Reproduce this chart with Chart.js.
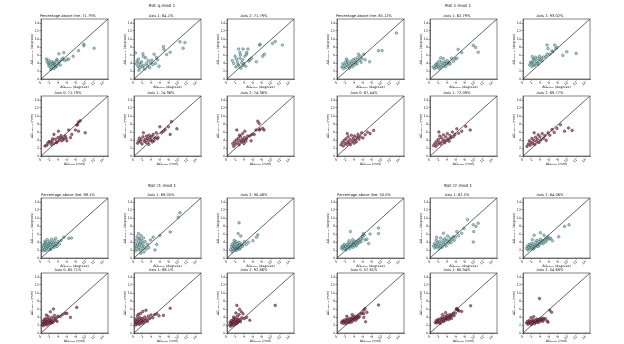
<!DOCTYPE html>
<html><head><meta charset="utf-8">
<script src="https://cdn.jsdelivr.net/npm/chart.js@4/dist/chart.umd.min.js"></script>
<style>
body{margin:0;background:#fff;width:624px;height:344px;position:relative;overflow:hidden;font-family:"DejaVu Sans",sans-serif}
canvas{position:absolute}
.sup{position:absolute;font-size:4.3px;font-family:"DejaVu Sans",sans-serif;color:#111;transform:translateX(-50%);white-space:nowrap;line-height:5px}
</style></head><body>
<script>
// ---------- axis / labels ----------
const tickValues = [0, 2, 4, 6, 8, 10, 12, 14];
const axisMin = 0, axisMax = 15;
const groupTitles = ["Rat q mod 1", "Rat s mod 1", "Rat r1 mod 1", "Rat r2 mod 1"];
const xLabelDeg = "ΔΩₐᵣₜₕᵣₒ (degrees)", yLabelDeg = "ΔΩₘₑₐₛᵤᵣₑ (degrees)";
const xLabelMm = "ΔΩₐᵣₜₕᵣₒ (mm)", yLabelMm = "ΔΩₘₑₐₛᵤᵣₑ (mm)";

const q_titles  = ["Percentage above line: 71.79%", "Axis 1: 64.1%", "Axis 2: 71.79%", "Axis 0: 71.79%", "Axis 1: 74.36%", "Axis 2: 74.36%"];
const s_titles  = ["Percentage above line: 65.12%", "Axis 1: 62.79%", "Axis 2: 93.02%", "Axis 0: 67.44%", "Axis 1: 72.09%", "Axis 2: 69.77%"];
const r1_titles = ["Percentage above line: 88.1%", "Axis 1: 69.05%", "Axis 2: 90.48%", "Axis 0: 85.71%", "Axis 1: 88.1%", "Axis 2: 92.86%"];
const r2_titles = ["Percentage above line: 50.0%", "Axis 1: 62.5%", "Axis 2: 64.06%", "Axis 0: 57.81%", "Axis 1: 60.94%", "Axis 2: 54.69%"];

// ---------- data: [arthro, measure] ----------
const q_deg_all = [[1.2,5.0],[1.4,4.3],[1.6,3.8],[1.8,3.2],[2.0,4.0],[2.1,3.5],[2.3,2.8],[2.4,4.4],[2.6,3.9],[2.7,3.3],[2.9,2.6],[3.0,4.1],[3.1,3.6],[3.3,3.0],[3.4,4.6],[3.6,4.9],[3.8,3.9],[4.0,6.3],[4.1,4.3],[4.3,3.5],[4.6,4.8],[4.9,5.2],[5.1,6.6],[5.3,4.6],[5.8,4.8],[6.2,5.0],[7.2,5.7],[8.4,7.1],[9.6,8.3],[9.6,8.7],[11.9,7.7],[2.2,2.4],[2.9,3.8],[3.5,3.2],[1.7,4.7]];
const q_deg_ax1 = [[0.3,6.5],[0.5,3.8],[0.7,4.5],[0.9,3.2],[1.0,5.0],[1.2,4.0],[1.3,2.8],[1.5,3.6],[1.7,4.3],[1.9,3.0],[2.1,5.6],[2.2,3.4],[2.4,2.5],[2.6,5.3],[2.8,3.9],[3.0,3.3],[3.2,4.6],[3.5,2.8],[3.7,4.0],[4.0,4.7],[4.2,3.6],[4.5,6.2],[4.8,3.9],[5.0,5.4],[5.3,4.8],[5.6,3.2],[6.6,8.1],[6.7,7.4],[7.3,6.1],[8.1,6.7],[10.3,9.3],[11.4,9.1],[11.0,7.7],[1.1,2.2],[2.0,6.3]];
const q_deg_ax2 = [[1.2,4.6],[1.5,3.9],[1.8,5.7],[2.0,3.0],[2.3,4.3],[2.5,3.6],[2.6,7.5],[2.6,3.4],[2.9,6.6],[2.9,5.2],[3.1,2.7],[3.3,4.1],[3.5,4.8],[3.6,7.5],[3.6,3.4],[3.8,3.8],[4.0,5.7],[4.2,3.2],[4.4,6.6],[4.4,6.2],[4.7,7.5],[4.9,4.5],[5.1,4.8],[5.5,5.2],[6.6,4.3],[7.3,8.5],[7.4,8.7],[8.0,5.7],[8.4,6.2],[10.2,8.9],[10.8,9.4],[12.4,8.5],[2.1,5.0],[3.0,6.0]];
const q_mm_ax0 = [[0.9,2.5],[1.3,2.7],[1.5,3.2],[1.8,3.6],[2.1,3.5],[2.3,2.9],[2.5,3.8],[2.6,4.3],[2.8,3.1],[2.9,5.4],[3.2,4.2],[3.4,3.3],[3.6,3.5],[3.8,4.6],[3.9,6.2],[4.1,3.9],[4.3,4.6],[4.5,5.1],[4.7,3.8],[4.9,4.4],[5.1,4.2],[5.4,5.0],[5.6,4.5],[5.8,3.8],[6.2,6.5],[6.6,4.6],[6.9,5.4],[7.7,6.5],[8.0,7.7],[8.2,7.9],[8.4,8.5],[8.8,8.8],[8.4,6.2],[9.9,5.8]];
const q_mm_ax1 = [[0.8,3.2],[1.0,3.8],[1.2,4.5],[1.4,3.5],[1.6,4.1],[1.8,3.0],[2.0,4.8],[2.1,5.8],[2.3,3.7],[2.5,4.2],[2.7,3.4],[2.8,5.0],[3.0,4.4],[3.2,3.9],[3.4,5.2],[3.6,4.6],[3.8,4.0],[4.0,4.9],[4.3,5.4],[4.5,3.8],[4.7,4.5],[5.0,5.8],[5.2,4.3],[5.4,4.6],[5.8,7.3],[6.2,5.8],[6.6,6.2],[7.0,6.6],[7.7,7.3],[8.1,5.4],[8.4,8.6],[9.6,6.8],[3.3,2.9],[4.1,3.5]];
const q_mm_ax2 = [[1.3,3.1],[1.5,2.4],[1.7,3.6],[1.9,2.9],[2.1,4.0],[2.2,6.5],[2.4,3.3],[2.5,4.4],[2.7,2.8],[2.9,3.8],[3.0,4.9],[3.2,3.5],[3.4,4.2],[3.5,5.6],[3.7,3.9],[3.9,4.6],[4.0,6.2],[4.2,3.7],[4.4,4.3],[4.6,5.0],[5.1,5.0],[5.4,3.8],[5.6,5.4],[6.1,5.4],[6.5,6.5],[6.9,8.7],[7.2,8.1],[7.2,6.5],[7.4,6.7],[8.0,6.9],[8.3,6.5],[2.8,5.2],[3.8,3.1]];

const s_deg_all = [[1.1,3.0],[1.3,3.8],[1.5,2.6],[1.7,3.4],[1.9,4.2],[2.0,2.9],[2.2,3.7],[2.3,4.6],[2.5,3.2],[2.6,4.0],[2.8,2.7],[3.0,3.5],[3.1,4.4],[3.3,3.9],[3.5,3.1],[3.6,4.8],[3.8,4.1],[4.0,3.6],[4.1,5.0],[4.3,4.3],[4.5,3.8],[4.6,5.3],[4.8,6.2],[5.0,4.7],[5.2,5.7],[5.4,4.2],[5.6,5.1],[6.0,6.2],[6.3,4.8],[7.3,4.3],[9.3,7.1],[10.1,7.1],[13.3,11.5],[2.1,5.0]];
const s_deg_ax1 = [[0.7,3.0],[1.0,2.6],[1.2,3.5],[1.4,2.9],[1.6,4.0],[1.8,3.2],[2.0,2.7],[2.1,4.5],[2.3,3.6],[2.5,3.0],[2.7,4.2],[2.9,3.4],[3.0,5.1],[3.2,3.8],[3.4,4.3],[3.5,3.1],[3.7,3.9],[3.9,4.6],[4.1,3.7],[4.3,4.1],[4.5,3.8],[4.8,5.2],[5.2,4.4],[5.6,5.0],[6.0,5.2],[6.3,7.4],[7.1,6.6],[9.7,8.4],[10.2,7.9],[10.8,6.7],[2.4,5.3],[1.5,3.6]];
const s_deg_ax2 = [[1.5,3.5],[1.7,4.2],[1.9,4.0],[2.0,3.1],[2.2,4.3],[2.3,5.0],[2.4,3.6],[2.6,4.8],[2.6,3.4],[2.8,5.4],[3.0,4.3],[3.1,3.9],[3.3,5.1],[3.4,3.7],[3.6,4.4],[3.7,5.7],[3.9,4.8],[4.1,5.2],[4.3,4.6],[4.6,5.5],[5.1,5.6],[5.4,6.2],[5.4,8.5],[5.6,7.6],[6.0,6.2],[6.5,7.0],[6.7,6.8],[7.1,8.5],[7.3,7.6],[7.6,7.9],[8.9,5.9],[9.8,6.8],[11.9,6.4],[2.1,5.6]];
const s_mm_ax0 = [[0.9,2.8],[1.2,3.4],[1.4,2.5],[1.6,3.9],[1.8,3.1],[2.0,4.3],[2.2,2.9],[2.4,3.6],[2.5,4.8],[2.7,3.3],[2.9,4.1],[3.0,2.8],[3.2,5.2],[3.4,3.7],[3.6,4.4],[3.8,3.2],[3.9,5.0],[4.1,4.0],[4.3,3.5],[4.5,4.7],[4.7,5.4],[4.9,4.2],[5.2,4.8],[5.5,5.8],[5.8,4.5],[6.3,5.3],[6.8,6.0],[7.4,5.6],[8.2,6.4],[2.3,5.6]];
const s_mm_ax1 = [[0.8,2.6],[1.1,3.2],[1.3,2.4],[1.5,3.7],[1.7,2.9],[1.9,4.2],[2.1,3.4],[2.2,5.0],[2.4,3.0],[2.6,4.5],[2.8,3.6],[3.0,5.3],[3.1,4.0],[3.3,3.3],[3.5,4.8],[3.7,3.9],[3.9,5.6],[4.1,4.3],[4.3,3.7],[4.5,5.1],[4.7,4.5],[5.0,6.0],[5.3,4.8],[5.6,5.4],[6.0,6.8],[6.4,5.7],[7.1,6.2],[8.0,7.4],[9.0,6.5],[2.0,6.0]];
const s_mm_ax2 = [[0.9,2.4],[1.2,3.0],[1.4,3.8],[1.6,2.7],[1.8,3.4],[2.0,4.4],[2.2,3.1],[2.4,3.9],[2.6,2.9],[2.8,4.7],[3.0,3.6],[3.2,4.2],[3.4,5.3],[3.6,3.4],[3.8,4.8],[4.0,4.0],[4.3,5.6],[4.6,4.4],[4.9,5.1],[5.2,3.9],[5.6,5.8],[6.0,5.2],[6.5,6.6],[7.0,5.9],[7.6,6.9],[8.4,7.8],[9.3,6.2],[10.2,7.0],[11.0,6.4],[2.5,5.8]];

const r1_deg_all = [[0.2,2.3],[0.3,3.1],[0.5,1.8],[0.6,2.7],[0.7,3.5],[0.8,2.1],[0.9,4.2],[1.0,2.9],[1.1,1.9],[1.2,3.3],[1.3,2.5],[1.4,4.6],[1.5,2.9],[1.6,3.7],[1.7,2.2],[1.8,3.2],[1.9,4.1],[2.0,2.7],[2.1,3.5],[2.2,2.1],[2.3,3.9],[2.4,4.7],[2.5,2.9],[2.6,3.4],[2.8,3.8],[2.9,2.6],[3.0,4.3],[3.2,3.1],[3.4,3.6],[3.6,2.9],[3.8,4.1],[4.1,3.5],[4.5,4.4],[5.1,5.2],[6.2,4.9],[6.8,5.0],[3.3,4.9],[1.0,3.8]];
const r1_deg_ax1 = [[0.2,2.5],[0.3,3.6],[0.4,1.8],[0.5,4.5],[0.6,2.9],[0.7,5.3],[0.8,3.3],[0.9,2.2],[1.0,6.1],[1.0,4.0],[1.1,2.7],[1.2,4.9],[1.3,3.4],[1.3,4.7],[1.4,2.0],[1.5,3.8],[1.6,5.6],[1.7,3.0],[1.8,4.3],[1.9,2.4],[2.0,3.6],[2.1,5.0],[2.3,2.9],[2.5,4.1],[2.7,2.2],[3.0,3.4],[3.3,2.6],[3.7,4.5],[4.3,5.2],[4.7,2.0],[5.1,3.4],[5.8,5.6],[8.1,6.5],[9.9,10.2],[10.3,11.3],[2.2,1.5],[1.5,1.2]];
const r1_deg_ax2 = [[0.8,2.1],[1.0,2.9],[1.1,1.6],[1.2,3.5],[1.3,2.4],[1.4,3.0],[1.5,2.0],[1.6,3.8],[1.7,2.7],[1.8,2.2],[1.9,3.3],[2.0,2.5],[2.0,4.1],[2.1,1.9],[2.2,2.9],[2.3,3.6],[2.4,2.3],[2.5,6.1],[2.5,3.1],[2.6,2.6],[2.7,8.8],[2.7,3.9],[2.8,2.2],[2.9,3.2],[3.0,2.6],[3.1,5.5],[3.2,3.5],[3.4,2.9],[3.6,3.3],[3.9,4.1],[4.3,3.4],[4.8,3.9],[5.8,4.3],[6.6,5.2],[6.9,5.8],[1.6,4.4]];
const r1_mm_ax0 = [[0.3,2.2],[0.4,2.9],[0.5,1.8],[0.6,2.5],[0.7,3.3],[0.8,2.1],[0.9,2.8],[1.0,3.6],[1.1,2.4],[1.2,3.0],[1.3,2.0],[1.4,3.4],[1.5,2.6],[1.6,4.1],[1.7,2.9],[1.8,2.3],[1.9,3.5],[2.0,2.8],[2.1,5.3],[2.2,3.2],[2.3,2.5],[2.4,3.9],[2.5,3.0],[2.7,2.7],[2.8,6.0],[2.9,3.6],[3.0,4.4],[3.2,3.2],[3.4,3.8],[3.6,2.9],[3.8,4.2],[4.3,4.1],[4.8,4.6],[5.4,4.9],[5.8,4.9],[6.6,3.9],[8.0,6.4],[1.2,4.5]];
const r1_mm_ax1 = [[0.2,2.5],[0.3,3.2],[0.4,2.0],[0.5,2.8],[0.6,3.6],[0.7,2.3],[0.8,4.3],[0.9,3.0],[1.0,2.5],[1.1,3.4],[1.2,2.1],[1.3,3.8],[1.4,2.7],[1.5,4.9],[1.6,3.1],[1.7,2.4],[1.8,3.6],[1.9,2.9],[2.0,5.4],[2.1,3.3],[2.2,2.6],[2.4,4.0],[2.5,3.1],[2.7,5.7],[2.8,3.5],[3.0,2.9],[3.2,4.2],[3.5,3.6],[3.8,4.5],[4.2,3.8],[4.6,4.6],[5.1,4.8],[5.6,4.3],[6.6,4.4],[8.1,6.2],[1.0,4.7]];
const r1_mm_ax2 = [[0.6,2.0],[0.7,2.7],[0.8,1.7],[0.9,2.4],[1.0,3.1],[1.1,2.2],[1.2,2.8],[1.3,1.9],[1.4,3.4],[1.5,2.5],[1.6,3.0],[1.7,2.1],[1.8,3.7],[1.9,2.7],[2.0,3.3],[2.1,2.3],[2.2,6.9],[2.2,2.9],[2.3,4.2],[2.4,2.6],[2.5,3.5],[2.6,3.0],[2.7,4.6],[2.8,5.9],[2.9,3.3],[3.0,2.8],[3.2,5.3],[3.3,3.8],[3.6,4.8],[3.9,3.6],[4.4,3.9],[5.1,3.2],[10.8,6.9],[1.5,4.0],[2.0,5.0]];

const r2_deg_all = [[1.0,2.5],[1.2,3.0],[1.3,2.2],[1.5,2.8],[1.6,3.4],[1.8,2.4],[1.9,3.0],[2.0,2.0],[2.2,3.3],[2.3,2.6],[2.5,3.7],[2.6,2.9],[2.8,2.3],[2.9,3.4],[3.0,6.6],[3.1,2.8],[3.3,3.9],[3.4,3.1],[3.6,2.7],[3.7,3.6],[3.9,3.2],[4.0,4.2],[4.2,3.5],[4.3,3.0],[4.5,4.0],[4.7,3.6],[4.8,4.4],[5.0,3.9],[5.2,4.6],[5.4,4.1],[5.6,4.9],[5.7,5.4],[5.9,6.1],[6.1,5.7],[6.3,4.5],[6.7,4.7],[7.1,3.6],[7.4,6.0],[9.3,7.5],[9.3,6.1],[2.7,4.3],[3.5,4.6]];
const r2_deg_ax1 = [[0.8,3.0],[1.0,3.6],[1.1,2.5],[1.3,3.2],[1.4,4.4],[1.6,2.8],[1.7,3.8],[1.9,3.3],[2.0,2.4],[2.1,4.1],[2.3,3.0],[2.4,5.0],[2.6,3.6],[2.7,2.7],[2.9,4.3],[3.0,6.2],[3.1,3.4],[3.3,4.8],[3.4,3.9],[3.6,3.0],[3.8,4.5],[3.9,5.5],[4.1,3.7],[4.3,4.2],[4.5,5.0],[4.7,3.8],[4.9,4.6],[5.2,5.3],[5.4,4.4],[5.7,5.2],[6.0,6.6],[6.4,5.6],[7.1,6.2],[7.6,7.4],[8.4,9.6],[9.7,8.3],[10.3,7.9],[9.8,6.6],[10.8,8.7],[9.7,4.0],[1.5,5.2]];
const r2_deg_ax2 = [[0.8,2.4],[1.0,3.0],[1.1,2.0],[1.3,2.7],[1.4,3.4],[1.6,2.3],[1.7,3.1],[1.9,2.6],[2.0,3.7],[2.2,2.9],[2.3,2.2],[2.5,5.7],[2.5,3.3],[2.7,2.7],[2.8,3.9],[3.0,3.1],[3.1,4.4],[3.3,3.5],[3.4,2.9],[3.6,4.1],[3.7,3.4],[3.9,6.3],[3.9,4.7],[4.1,3.8],[4.3,4.3],[4.5,3.6],[4.7,5.7],[4.8,4.5],[5.0,4.0],[5.2,5.0],[5.4,4.5],[5.6,5.3],[5.9,4.8],[6.2,4.9],[6.6,4.3],[8.0,5.3],[9.3,7.9],[10.3,8.3],[2.1,4.6]];
const r2_mm_ax0 = [[1.0,2.6],[1.2,3.0],[1.4,2.4],[1.5,2.9],[1.7,3.3],[1.8,2.7],[2.0,2.3],[2.1,3.1],[2.3,3.5],[2.4,2.8],[2.6,3.3],[2.7,2.6],[2.9,3.7],[3.0,3.0],[3.2,2.7],[3.3,3.5],[3.5,3.9],[3.6,3.1],[3.8,3.4],[3.9,4.2],[4.1,3.7],[4.2,3.2],[4.4,4.0],[4.5,3.6],[4.7,4.4],[4.8,3.9],[5.0,4.1],[5.3,4.8],[5.6,5.0],[6.0,5.7],[6.3,6.1],[6.0,4.8],[6.7,5.2],[6.0,3.9],[6.4,2.8],[9.3,7.0],[2.2,4.2],[3.4,4.6]];
const r2_mm_ax1 = [[1.2,2.6],[1.4,3.1],[1.5,2.5],[1.7,2.9],[1.8,3.4],[2.0,2.7],[2.1,3.2],[2.3,2.4],[2.4,3.6],[2.6,3.0],[2.7,3.8],[2.9,3.3],[3.0,2.8],[3.2,3.6],[3.3,4.1],[3.5,3.2],[3.6,3.8],[3.8,4.4],[3.9,3.5],[4.1,4.0],[4.2,3.4],[4.4,4.6],[4.5,3.9],[4.7,4.2],[4.8,3.6],[5.0,4.5],[5.2,4.9],[5.4,4.3],[5.7,5.0],[5.9,6.0],[6.0,6.1],[6.2,5.8],[6.3,5.7],[6.5,5.5],[7.1,5.4],[9.1,6.8],[2.8,4.6],[3.5,5.1]];
const r2_mm_ax2 = [[0.8,2.5],[1.0,2.9],[1.1,2.2],[1.3,2.6],[1.4,3.1],[1.6,2.4],[1.7,2.8],[1.9,2.1],[2.0,3.0],[2.2,2.6],[2.3,3.3],[2.5,2.8],[2.6,2.3],[2.8,3.1],[2.9,2.7],[3.1,3.5],[3.2,3.0],[3.4,2.6],[3.5,3.3],[3.7,8.6],[3.7,2.9],[3.9,3.6],[4.0,3.1],[4.2,3.4],[4.4,2.9],[4.5,3.7],[4.7,3.3],[5.0,3.6],[5.4,3.0],[5.6,2.7],[6.0,5.7],[6.4,5.2],[1.8,3.8],[2.4,4.1]];

// ---------- layout ----------
const topRows = [19, 96], bottomRows = [198, 273];
const groups = [
  {title: groupTitles[0], titles: q_titles,  data: [q_deg_all, q_deg_ax1, q_deg_ax2, q_mm_ax0, q_mm_ax1, q_mm_ax2],   dx: 0,   supY: 3,   rows: topRows},
  {title: groupTitles[1], titles: s_titles,  data: [s_deg_all, s_deg_ax1, s_deg_ax2, s_mm_ax0, s_mm_ax1, s_mm_ax2],   dx: 296, supY: 3,   rows: topRows},
  {title: groupTitles[2], titles: r1_titles, data: [r1_deg_all, r1_deg_ax1, r1_deg_ax2, r1_mm_ax0, r1_mm_ax1, r1_mm_ax2], dx: 0,   supY: 183, rows: bottomRows},
  {title: groupTitles[3], titles: r2_titles, data: [r2_deg_all, r2_deg_ax1, r2_deg_ax2, r2_mm_ax0, r2_mm_ax1, r2_mm_ax2], dx: 296, supY: 183, rows: bottomRows}
];
const colLeft = [41, 134, 227];
const boxW = 67, boxH = 60;
const supX = 162;
const padL = 13, padT = 6, padB = 11, padR = 4;

const frame = {
  id: 'frame',
  afterDraw(c) {
    const a = c.chartArea, ctx = c.ctx;
    ctx.save(); ctx.strokeStyle = '#333'; ctx.lineWidth = 0.6;
    ctx.strokeRect(a.left, a.top, a.right - a.left, a.bottom - a.top);
    ctx.restore();
  }
};

function makeChart(pts, title, row, left, top) {
  const cv = document.createElement('canvas');
  const W = padL + boxW + padR, H = padT + boxH + padB;
  cv.width = W; cv.height = H;
  cv.style.left = (left - padL) + 'px'; cv.style.top = (top - padT) + 'px';
  cv.style.width = W + 'px'; cv.style.height = H + 'px';
  document.body.appendChild(cv);
  const deg = row === 0;
  const fill = deg ? 'rgba(95,158,160,0.5)' : 'rgba(128,40,62,0.65)';
  const edge = deg ? '#2e5d5e' : '#4a1424';
  const tickOpt = {font: {size: 3.3, family: 'DejaVu Sans', lineHeight: 1}, color: '#222', padding: 0.5};
  const gridOpt = {drawOnChartArea: false, drawTicks: true, tickLength: 1.5, tickColor: '#333', tickWidth: 0.5};
  new Chart(cv, {
    type: 'scatter',
    data: {datasets: [
      {type: 'line', data: [{x: axisMin, y: axisMin}, {x: axisMax, y: axisMax}], borderColor: '#222', borderWidth: 0.7, pointRadius: 0, order: 0},
      {data: pts.map(p => ({x: p[0], y: p[1]})), backgroundColor: fill, borderColor: edge, borderWidth: 0.45, pointRadius: 1.3, order: 1}
    ]},
    options: {
      responsive: false, animation: false, devicePixelRatio: 1,
      layout: {padding: {left: 0, right: padR, top: 0, bottom: 0}, autoPadding: false},
      plugins: {
        legend: {display: false}, tooltip: {enabled: false},
        title: {display: true, text: title, font: {size: 3.6, family: 'DejaVu Sans', weight: 'normal', lineHeight: 1}, color: '#111', padding: {top: 1.4, bottom: 1}}
      },
      scales: {
        x: {type: 'linear', min: axisMin, max: axisMax,
            afterBuildTicks: s => { s.ticks = tickValues.map(v => ({value: v})); },
            afterFit: s => { s.height = padB; },
            ticks: tickOpt, grid: gridOpt, border: {display: true, color: '#333', width: 0.6},
            title: {display: true, text: deg ? xLabelDeg : xLabelMm, font: {size: 3.3, family: 'DejaVu Sans', lineHeight: 1}, color: '#111', padding: {top: 0, bottom: 1.4}}},
        y: {type: 'linear', min: axisMin, max: axisMax,
            afterBuildTicks: s => { s.ticks = tickValues.map(v => ({value: v})); },
            afterFit: s => { s.width = padL; },
            ticks: tickOpt, grid: gridOpt, border: {display: true, color: '#333', width: 0.6},
            title: {display: true, text: deg ? yLabelDeg : yLabelMm, font: {size: 3.3, family: 'DejaVu Sans', lineHeight: 1}, color: '#111', padding: {top: 2.2, bottom: 0}}}
      }
    },
    plugins: [frame]
  });
}

groups.forEach(g => {
  const d = document.createElement('div');
  d.className = 'sup'; d.textContent = g.title;
  d.style.left = (supX + g.dx) + 'px'; d.style.top = g.supY + 'px';
  document.body.appendChild(d);
  for (let i = 0; i < 6; i++) {
    const row = Math.floor(i / 3), col = i % 3;
    makeChart(g.data[i], g.titles[i], row, colLeft[col] + g.dx, g.rows[row]);
  }
});
</script>
</body></html>
